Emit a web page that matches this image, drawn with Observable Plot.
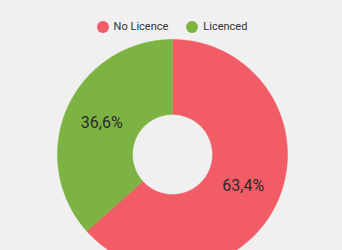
<!DOCTYPE html>
<html>
<head>
<meta charset="utf-8">
<script src="https://cdn.jsdelivr.net/npm/d3@7"></script>
<script src="https://cdn.jsdelivr.net/npm/@observablehq/plot@0.6"></script>
<style>
  html, body { margin: 0; padding: 0; background: #f0f0f0; width: 342px; height: 250px; overflow: hidden; font-family: Roboto, "Open Sans", Arial, sans-serif; }
  #legend { height: 36px; display: flex; justify-content: center; align-items: flex-end; gap: 18px; font-size: 11px; color: #333; box-sizing: border-box; padding-bottom: 3px; padding-left: 2px; }
  #legend .item { display: flex; align-items: center; gap: 5px; }
  #legend .sw { width: 12px; height: 12px; border-radius: 50%; display: inline-block; }
  #chart svg { background: transparent; display: block; }
</style>
</head>
<body>
<div id="legend"></div>
<div id="chart"></div>
<script>
const categories = ["No Licence", "Licenced"];
const values = [63.4, 36.6];
const labels = ["63,4%", "36,6%"];
const colors = ["#F25C66", "#7CB342"];

const W = 342, H = 214;
const cx = 172, cy = 118, R = 115, r0 = 40;

// legend
const leg = document.getElementById("legend");
categories.forEach((c, i) => {
  const it = document.createElement("div");
  it.className = "item";
  it.innerHTML = `<span class="sw" style="background:${colors[i]}"></span><span>${c}</span>`;
  leg.appendChild(it);
});

const pie = d3.pie().sort(null).value(d => d.value)(categories.map((c, i) => ({cat: c, value: values[i], label: labels[i]})));

const poly = [];
const cents = [];
pie.forEach(p => {
  const n = 120;
  const pts = [];
  for (let k = 0; k <= n; k++) {
    const a = p.startAngle + (p.endAngle - p.startAngle) * k / n;
    pts.push([cx + R * Math.sin(a), cy - R * Math.cos(a)]);
  }
  for (let k = n; k >= 0; k--) {
    const a = p.startAngle + (p.endAngle - p.startAngle) * k / n;
    pts.push([cx + r0 * Math.sin(a), cy - r0 * Math.cos(a)]);
  }
  pts.forEach(([x, y]) => poly.push({cat: p.data.cat, x, y}));
  const m = (p.startAngle + p.endAngle) / 2, rm = (R + r0) / 2;
  cents.push({cat: p.data.cat, label: p.data.label, x: cx + rm * Math.sin(m), y: cy - rm * Math.cos(m)});
});

const plot = Plot.plot({
  width: W, height: H,
  margin: 0,
  style: {background: "transparent"},
  x: {domain: [0, W], range: [0, W], axis: null},
  y: {domain: [0, H], range: [0, H], axis: null},
  color: {domain: categories, range: colors},
  marks: [
    Plot.line(poly, {x: "x", y: "y", z: "cat", fill: "cat", stroke: "cat", strokeWidth: 0.5, curve: "linear-closed"}),
    Plot.text(cents, {x: "x", y: "y", text: "label", fontSize: 16, fill: "#2a2a2a", fontFamily: "Roboto, Arial, sans-serif"})
  ]
});
document.getElementById("chart").appendChild(plot);
</script>
</body>
</html>
